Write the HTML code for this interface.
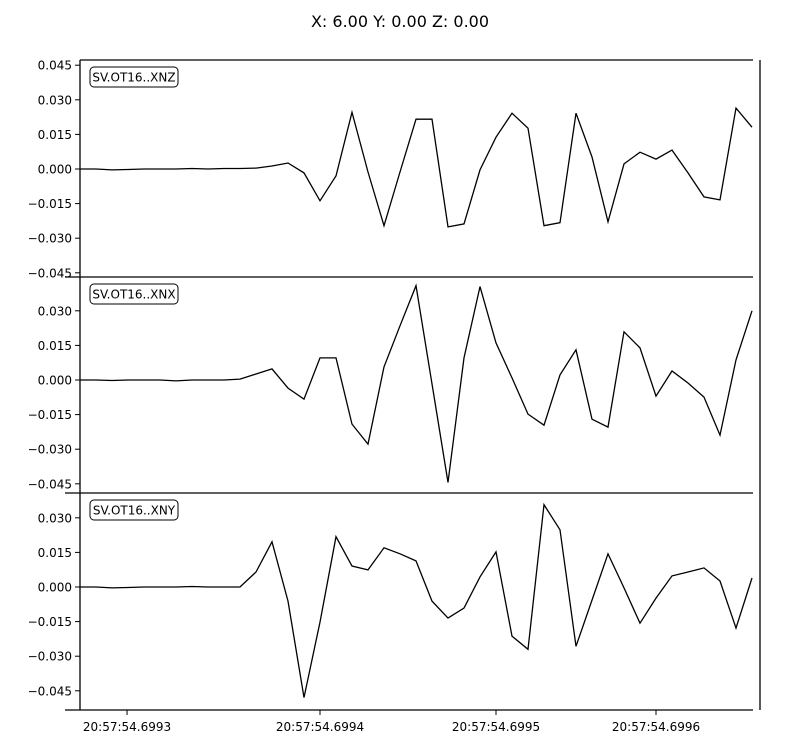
<!DOCTYPE html>
<html><head><meta charset="utf-8"><style>
html,body{margin:0;padding:0;background:#fff}
svg{display:block;font-family:"DejaVu Sans","Liberation Sans",sans-serif}
</style></head><body>
<svg id="chart" width="800" height="750" viewBox="0 0 800 750">
<text x="400" y="27" text-anchor="middle" font-size="16">X: 6.00 Y: 0.00 Z: 0.00</text>
</svg>
<script>
const channels = ["SV.OT16..XNZ","SV.OT16..XNX","SV.OT16..XNY"];
const seriesXNZ = [0,0,-0.4,-0.2,0,0,0,0.2,0,0.2,0.2,0.4,1.3,2.6,-1.7,-13.8,-3.0,24.6,-1.3,-24.6,-1.3,21.6,21.6,-25.1,-23.8,-0.4,13.8,24.2,17.7,-24.6,-23.3,24.2,5.2,-22.9,2.2,7.3,4.3,8.2,-1.7,-12.1,-13.4,26.4,18.1];
const seriesXNX = [0,0,-0.2,0,0,0,-0.4,0,0,0,0.4,2.6,4.8,-3.5,-8.3,9.6,9.6,-19.1,-27.8,5.7,23.5,40.9,-1.7,-44.4,9.6,40.5,16.1,0.9,-14.8,-19.6,2.2,13.1,-17.0,-20.4,20.9,13.9,-7.0,3.9,-1.3,-7.4,-23.9,8.7,30.0];
const seriesXNY = [0,0,-0.4,-0.2,0,0,0,0.2,0,0,0,6.5,19.6,-6.1,-47.9,-15.2,21.8,9.1,7.4,17.0,14.4,11.3,-6.1,-13.5,-9.1,4.4,15.2,-21.3,-27.0,35.7,24.8,-25.7,-5.7,14.4,-0.4,-15.7,-4.8,4.8,6.5,8.3,2.6,-17.8,3.9];
const yTickValues = [-0.045,-0.030,-0.015,0,0.015,0.030,0.045];
const yTickLabels = ["\u22120.045","\u22120.030","\u22120.015","0.000","0.015","0.030","0.045"];
const xTickSamples = [2.94,15,26,36];
const xTickLabels = ["20:57:54.6993","20:57:54.6994","20:57:54.6995","20:57:54.6996"];

const NS="http://www.w3.org/2000/svg";
const svg=document.getElementById('chart');
function mk(tag,attrs,parent){const e=document.createElementNS(NS,tag);for(const k in attrs)e.setAttribute(k,attrs[k]);(parent||svg).appendChild(e);return e;}
const left=80,right=760,nSamples=seriesXNZ.length;
function xs(i){return left+i*(752-left)/(nSamples-1);}
const panels=[{top:60,bot:277,zero:169,data:seriesXNZ},{top:277,bot:493,zero:380,data:seriesXNX},{top:493,bot:710,zero:587,data:seriesXNY}];
const pxPerUnit=34.6/0.015;

panels.forEach((p,pi)=>{
  const g=mk('g',{});
  
  
  const ys=v=>p.zero-v*pxPerUnit;
  yTickValues.forEach((v,ti)=>{
    const y=ys(v);
    if(y<p.top+3||y>p.bot-3)return;
    const t=mk('line',{x1:75,x2:80,y1:y,y2:y,stroke:'#000','stroke-width':1},g);
    
    
    const l=mk('text',{x:72,y:y+4.5,'text-anchor':'end','font-size':12},g);
    l.textContent=yTickLabels[ti];
    
    
  });
  const pts=p.data.map((v,i)=>xs(i).toFixed(1)+','+ys(v/1000).toFixed(1)).join(' ');
  const line=mk('polyline',{points:pts,fill:'none',stroke:'#000','stroke-width':1.3,'stroke-linejoin':'miter'},g);
  
  
  const box=mk('rect',{x:90,y:p.top+7,width:88,height:20,rx:4,fill:'#fff',stroke:'#000','stroke-width':1},g);
  
  
  const lt=mk('text',{x:134,y:p.top+21.5,'text-anchor':'middle','font-size':12},g);
  lt.textContent=channels[pi];
  
  
});
// spines
const spines=[[80,60,80,710],[80,60,753,60],[65,277,753,277],[65,493,753,493],[65,710,753,710],[760,60,760,710]];
spines.forEach(s=>{
  const l=mk('line',{x1:s[0],y1:s[1],x2:s[2],y2:s[3],stroke:'#000','stroke-width':1.3});
  
  
});
xTickSamples.forEach((s,i)=>{
  const x=xs(s);
  const t=mk('line',{x1:x,x2:x,y1:710,y2:715,stroke:'#000','stroke-width':1});
  
  
  const l=mk('text',{x:x,y:731,'text-anchor':'middle','font-size':12});
  l.textContent=xTickLabels[i];
  
  
});
</script>
</body></html>
